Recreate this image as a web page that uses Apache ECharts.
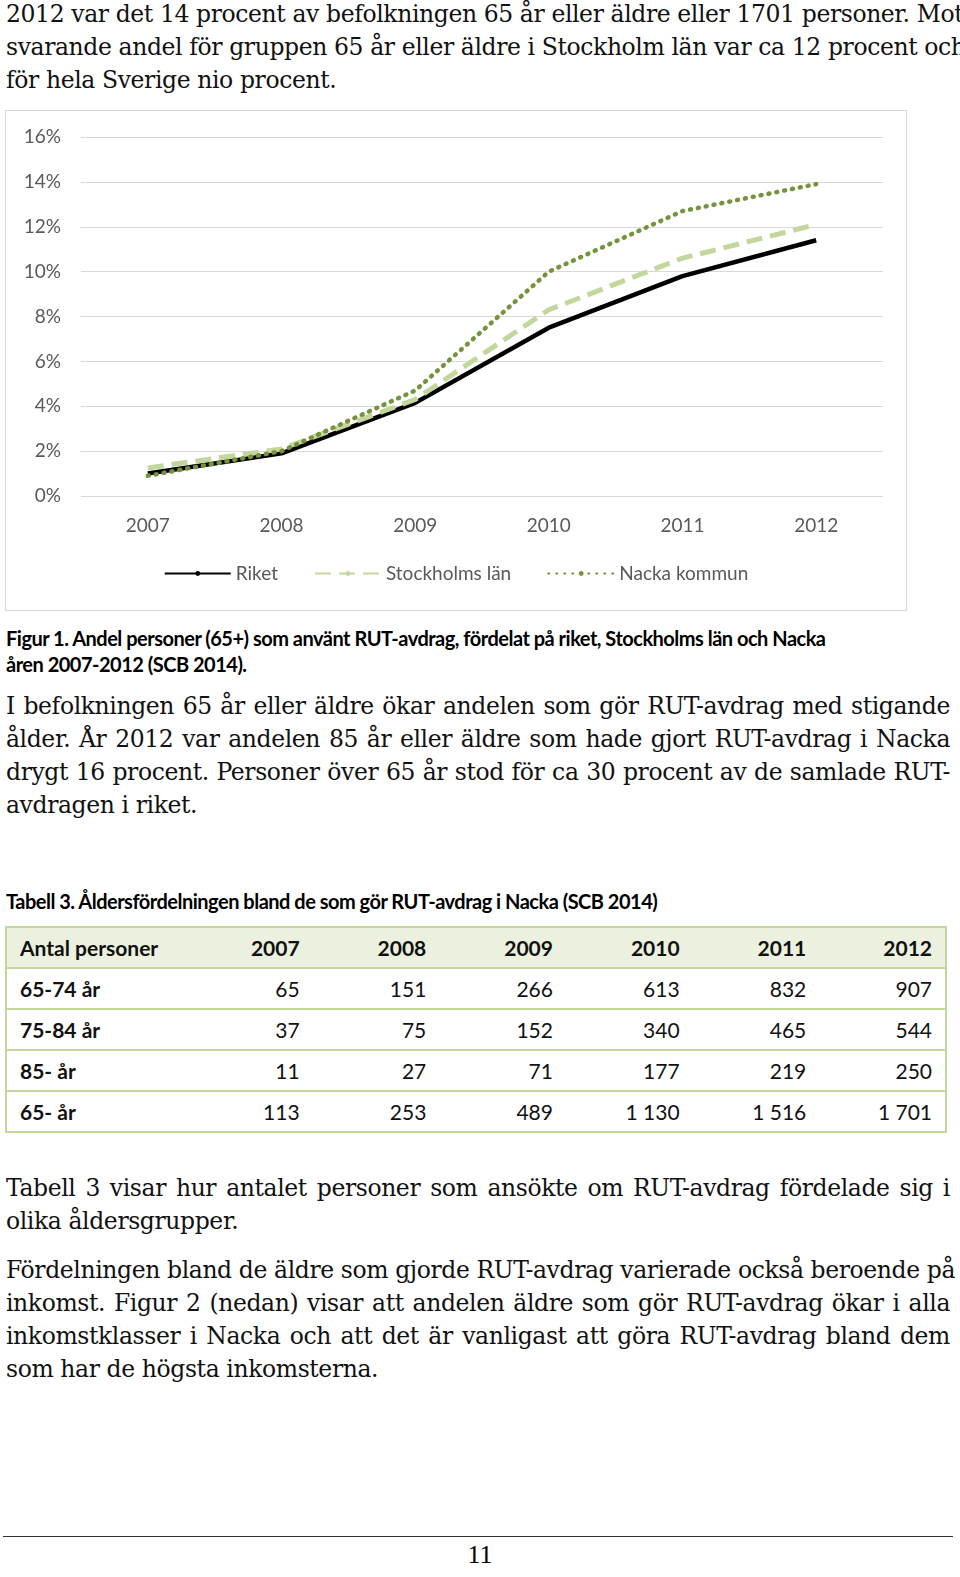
<!DOCTYPE html>
<html><head><meta charset="utf-8">
<script src="https://cdn.jsdelivr.net/npm/echarts@6/dist/echarts.min.js"></script>
<style>
body{margin:0;background:#fff;width:960px;height:1577px;position:relative;overflow:hidden}
.p{position:absolute;left:6px;width:944px;font-family:"DejaVu Serif","Liberation Serif",serif;font-size:23.5px;line-height:33px;color:#111;letter-spacing:-0.4px}
.p div{text-align:justify;text-align-last:justify;white-space:nowrap}
.p div.l{text-align-last:left}
.cap{position:absolute;left:6px;width:950px;font-family:Lato,"Open Sans",sans-serif;font-weight:bold;font-size:20px;line-height:26px;color:#000;letter-spacing:-0.5px}
#chart{position:absolute;left:5px;top:110px;width:900px;height:499px;border:1px solid #d9d9d9}
table{position:absolute;left:5px;top:926px;width:942px;border-collapse:collapse;font-family:Lato,"Open Sans",sans-serif;font-size:21px;color:#111;table-layout:fixed;border:2px solid #c3d69b}
td,th{border-top:2px solid #c3d69b;border-bottom:2px solid #c3d69b;height:39px;padding:0 13px;text-align:right}
th{background:#ebf1de;font-weight:bold}
td:first-child,th:first-child{text-align:left;font-weight:bold}
</style></head><body>
<div class="p" style="top:-2px"><div>2012 var det 14 procent av befolkningen 65 år eller äldre eller 1701 personer. Mot-</div><div>svarande andel för gruppen 65 år eller äldre i Stockholm län var ca 12 procent och</div><div class="l">för hela Sverige nio procent.</div></div>
<div id="chart"></div>
<div class="cap" style="top:625px">Figur 1. Andel personer (65+) som använt RUT-avdrag, fördelat på riket, Stockholms län och Nacka<br>åren 2007-2012 (SCB 2014).</div>
<div class="p" style="top:690px"><div>I befolkningen 65 år eller äldre ökar andelen som gör RUT-avdrag med stigande</div><div>ålder. År 2012 var andelen 85 år eller äldre som hade gjort RUT-avdrag i Nacka</div><div>drygt 16 procent. Personer över 65 år stod för ca 30 procent av de samlade RUT-</div><div class="l">avdragen i riket.</div></div>
<div class="cap" style="top:888px">Tabell 3. Åldersfördelningen bland de som gör RUT-avdrag i Nacka (SCB 2014)</div>
<table id="tbl"><colgroup><col style="width:180px"><col><col><col><col><col><col></colgroup></table>
<div class="p" style="top:1172px"><div>Tabell 3 visar hur antalet personer som ansökte om RUT-avdrag fördelade sig i</div><div class="l">olika åldersgrupper.</div></div>
<div class="p" style="top:1254px"><div>Fördelningen bland de äldre som gjorde RUT-avdrag varierade också beroende på</div><div>inkomst. Figur 2 (nedan) visar att andelen äldre som gör RUT-avdrag ökar i alla</div><div>inkomstklasser i Nacka och att det är vanligast att göra RUT-avdrag bland dem</div><div class="l">som har de högsta inkomsterna.</div></div>
<div style="position:absolute;left:3px;top:1536px;width:950px;border-top:1.5px solid #333"></div>
<div style="position:absolute;left:0;width:960px;top:1540px;text-align:center;font-family:'Liberation Serif',serif;font-size:26px">11</div>
<script>
const years=['2007','2008','2009','2010','2011','2012'];
const riket=[1.0,1.9,4.15,7.5,9.8,11.4];
const sthlm=[1.25,2.1,4.3,8.3,10.6,12.1];
const nacka=[0.9,2.0,4.7,10.0,12.7,13.9];
const tableHead=['Antal personer','2007','2008','2009','2010','2011','2012'];
const rowLabels=['65-74 år','75-84 år','85- år','65- år'];
const rowValues=[
['65','151','266','613','832','907'],
['37','75','152','340','465','544'],
['11','27','71','177','219','250'],
['113','253','489','1 130','1 516','1 701']];
let h='<tr>'+tableHead.map(t=>'<th>'+t+'</th>').join('')+'</tr>';
rowLabels.forEach((l,i)=>{h+='<tr><td>'+l+'</td>'+rowValues[i].map(v=>'<td>'+v+'</td>').join('')+'</tr>';});
document.getElementById('tbl').insertAdjacentHTML('beforeend',h);
const c=echarts.init(document.getElementById('chart'));
const font='Lato';
c.setOption({animation:false,
grid:{left:75,right:23,top:26,bottom:114},
legend:{bottom:22,itemWidth:66,itemHeight:6,itemGap:36,textStyle:{fontFamily:font,fontSize:19,color:'#595959'},
 data:['Riket','Stockholms län','Nacka kommun']},
xAxis:{type:'category',data:years,axisLine:{show:false},axisTick:{show:false},
 axisLabel:{fontFamily:font,fontSize:19,color:'#595959',margin:20}},
yAxis:{type:'value',min:0,max:16,interval:2,axisLabel:{formatter:'{value}%',fontFamily:font,fontSize:19,color:'#595959',margin:20},
 splitLine:{lineStyle:{color:'#d9d9d9'}}},
series:[
{name:'Riket',type:'line',data:riket,symbol:'none',lineStyle:{color:'#000',width:4.5},itemStyle:{color:'#000'}},
{name:'Stockholms län',type:'line',data:sthlm,symbol:'none',lineStyle:{color:'#c3d69b',width:5,type:[16,8]},itemStyle:{color:'#c3d69b'}},
{name:'Nacka kommun',type:'line',data:nacka,symbol:'none',lineStyle:{color:'#76923c',width:4.5,type:[1,7],cap:'round'},itemStyle:{color:'#76923c'}}
]});
</script>
</body></html>
